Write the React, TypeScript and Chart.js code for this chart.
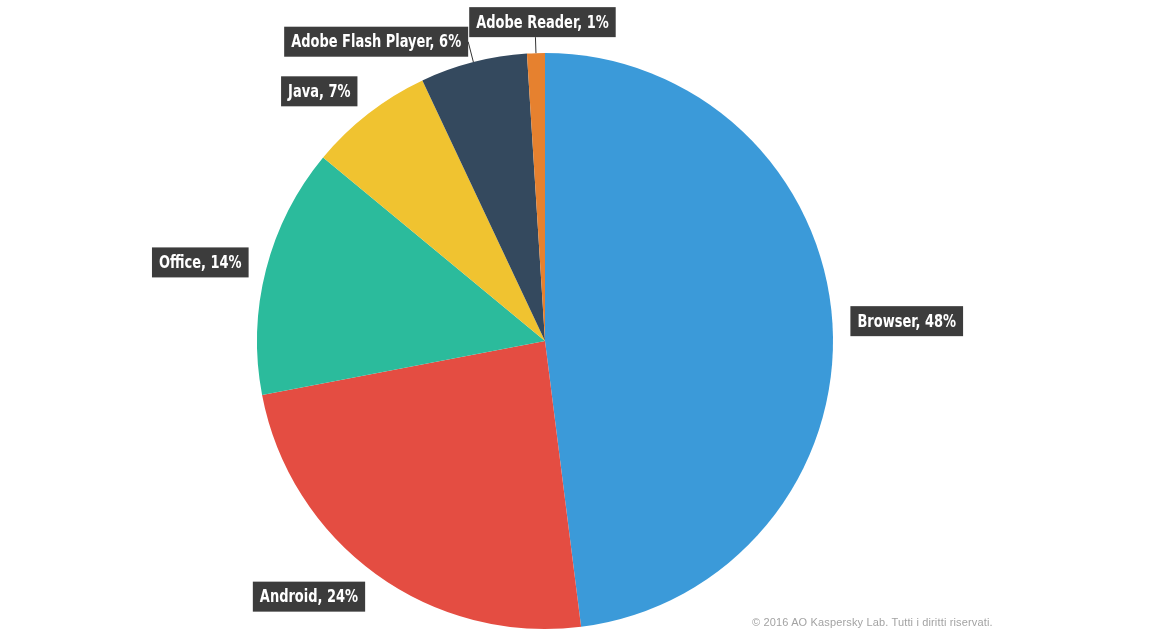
import React, { useEffect, useRef } from "react";
import { Chart, registerables } from "chart.js";

Chart.register(...registerables);

const categories = ["Browser", "Android", "Office", "Java", "Adobe Flash Player", "Adobe Reader"];
const shares = [48, 24, 14, 7, 6, 1];
const sliceColors = ["#3B9AD9", "#E44D42", "#2BBB9C", "#F0C330", "#34495E", "#E6812F"];
const copyright = "© 2016 AO Kaspersky Lab. Tutti i diritti riservati.";

const labelPlugin = {
  id: "boxLabels",
  afterDatasetsDraw(chart: any) {
    const ctx = chart.ctx;
    const meta = chart.getDatasetMeta(0);
    const ds = chart.data.datasets[0];
    const sx = 0.85;
    ctx.save();
    ctx.font = "bold 17px 'DejaVu Sans Condensed', 'DejaVu Sans', sans-serif";
    ctx.textBaseline = "middle";
    meta.data.forEach((arc: any, i: number) => {
      const p = arc.getProps(["x", "y", "startAngle", "endAngle", "outerRadius"], true);
      const mid = (p.startAngle + p.endAngle) / 2;
      const dx = Math.cos(mid);
      const dy = Math.sin(mid);
      const value = ds.data[i];
      const small = value < 7;
      const top = Math.abs(dx) < 0.1;
      const d = top ? 16 : small ? 21 : 18;
      const ax = p.x + dx * (p.outerRadius + d);
      const ay = p.y + dy * (p.outerRadius + d);
      const text = `${chart.data.labels[i]}, ${value}%`;
      const tw = ctx.measureText(text).width * sx;
      const padX = 7;
      const bw = tw + padX * 2;
      const bh = 30;
      let bx: number;
      let by: number;
      if (top) {
        bx = ax - bw / 2 + 7;
        by = ay - bh;
      } else {
        bx = dx >= 0 ? ax : ax - bw;
        by = ay - bh / 2 + (small ? 0 : dy * 10);
      }
      if (small) {
        ctx.strokeStyle = "#333";
        ctx.lineWidth = 1;
        ctx.beginPath();
        ctx.moveTo(p.x + dx * p.outerRadius, p.y + dy * p.outerRadius);
        ctx.lineTo(ax, ay);
        ctx.stroke();
      }
      ctx.fillStyle = "#3c3c3c";
      ctx.fillRect(bx, by, bw, bh);
      ctx.fillStyle = "#ffffff";
      ctx.textAlign = "left";
      ctx.save();
      ctx.translate(bx + padX, by + bh / 2 + 1);
      ctx.scale(sx, 1);
      ctx.fillText(text, 0, 0);
      ctx.restore();
    });
    ctx.restore();
  },
};

export default function App() {
  const ref = useRef<HTMLCanvasElement>(null);
  useEffect(() => {
    document.body.style.margin = "0";
    const chart = new Chart(ref.current!, {
      type: "pie",
      data: {
        labels: categories,
        datasets: [
          {
            data: shares,
            backgroundColor: sliceColors,
            borderWidth: 0,
          },
        ],
      },
      options: {
        animation: false,
        responsive: false,
        layout: { padding: { top: 53, bottom: 10, left: 0, right: 63 } },
        plugins: {
          legend: { display: false },
          tooltip: { enabled: false },
        },
      },
      plugins: [labelPlugin],
    });
    return () => chart.destroy();
  }, []);
  return (
    <div style={{ position: "relative", width: 1153, height: 639, background: "#fff" }}>
      <canvas ref={ref} width={1153} height={639} style={{ display: "block" }} />
      <div
        style={{
          position: "absolute",
          left: 752,
          top: 616,
          fontFamily: "'Liberation Sans', Arial, sans-serif",
          fontSize: 11,
          color: "#a3a3a3",
          whiteSpace: "nowrap",
          letterSpacing: 0.15,
        }}
      >
        {copyright}
      </div>
    </div>
  );
}
